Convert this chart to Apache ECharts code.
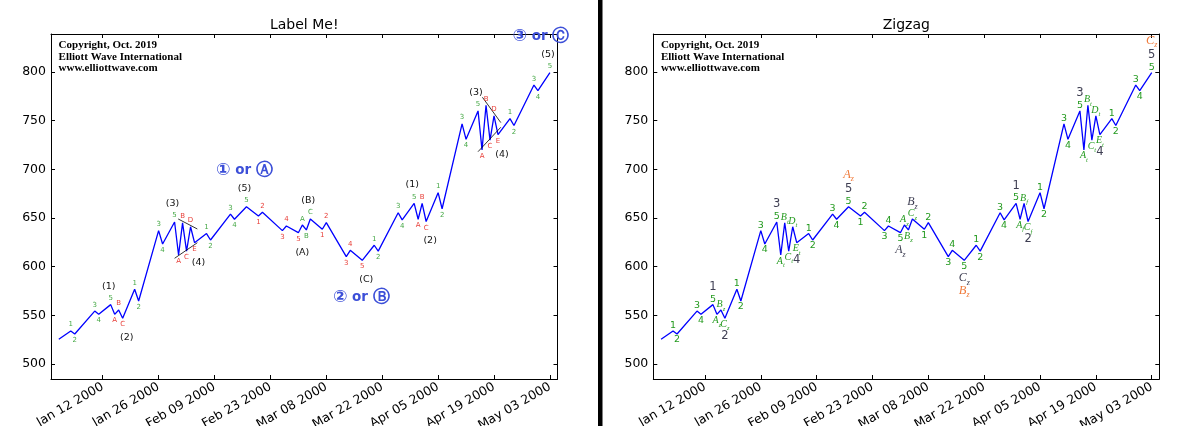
<!DOCTYPE html>
<html><head><meta charset="utf-8">
<script src="https://cdn.jsdelivr.net/npm/echarts@6/dist/echarts.min.js"></script>
<style>html,body{margin:0;padding:0;background:#fff}#c{width:1200px;height:426px}</style>
</head><body><div id="c"></div>
<script>
// ---------------- data ----------------
const dates = ['2000-01-01','2000-01-04','2000-01-05','2000-01-10','2000-01-11','2000-01-14','2000-01-15','2000-01-16','2000-01-17','2000-01-20','2000-01-21','2000-01-26','2000-01-27','2000-01-30','2000-01-31','2000-02-01','2000-02-02','2000-02-03','2000-02-04','2000-02-07','2000-02-08','2000-02-13','2000-02-14','2000-02-17','2000-02-20','2000-02-21','2000-02-26','2000-02-27','2000-03-01','2000-03-02','2000-03-03','2000-03-04','2000-03-07','2000-03-08','2000-03-13','2000-03-14','2000-03-17','2000-03-20','2000-03-21','2000-03-26','2000-03-27','2000-03-30','2000-03-31','2000-04-01','2000-04-02','2000-04-05','2000-04-06','2000-04-11','2000-04-12','2000-04-15','2000-04-16','2000-04-17','2000-04-18','2000-04-19','2000-04-20','2000-04-23','2000-04-24','2000-04-29','2000-04-30','2000-05-03'];
const values = [525.5,534,530.8,554.4,551,561,551,555.5,547,576.8,564.7,637,623.3,645.9,612,645,616,641,624.6,634,627.4,654,648.7,661.6,652,655.8,637,641.8,634.9,642.8,637.7,649,638.4,645.2,610.3,616.8,606.5,622,616,655.4,648,665,648.7,665,646.4,676,659.5,746.6,730.8,760,720,765.8,730,755,735.6,752,745,786.6,780.8,799.3];
const yTickValues = [500,550,600,650,700,750,800];
const xTickDates = ['2000-01-12','2000-01-26','2000-02-09','2000-02-23','2000-03-08','2000-03-22','2000-04-05','2000-04-19','2000-05-03'];
const titles = ['Label Me!','Zigzag'];
const copyrightLines = ['Copyright, Oct. 2019','Elliott Wave International','www.elliottwave.com'];

// left panel ("Label Me!")
const leftWave = ['','1','2','3','4','5','A','B','C','1','2','3','4','5','A','B','C','D','E','1','2','3','4','5','1','2','3','4','5','A','B','C','1','2','3','4','5','1','2','3','4','5','A','B','C','1','2','3','4','5','A','B','C','D','E','1','2','3','4','5'];
const leftKind = ('-'+'iiiii'+'ccc'+'iiiii'+'ccccc'+'iiiii'+'ccccc'+'iii'+'ccccc'+'iiiii'+'ccc'+'iiiii'+'ccccc'+'iiiii').split('');
const leftDegree = [[5,'(1)'],[8,'(2)'],[13,'(3)'],[18,'(4)'],[23,'(5)'],[28,'(A)'],[31,'(B)'],[36,'(C)'],[41,'(1)'],[44,'(2)'],[49,'(3)'],[54,'(4)'],[59,'(5)']];
const leftBig = [[23,'①','Ⓐ'],[36,'②','Ⓑ'],[59,'③','Ⓒ']];
const triangleLines = [
  [['2000-01-30T21:36',649],['2000-02-04T16:48',638.7]],
  [['2000-01-30T00:00',608.6],['2000-02-04T16:48',624.6]],
  [['2000-04-16T02:24',774],['2000-04-20T16:48',748]],
  [['2000-04-15T00:00',718.1],['2000-04-20T16:48',743.2]]
];

// right panel ("Zigzag")
const rightWave = ['','1','2','3','4','5','A_z','B_z','C_z','1','2','3','4','5','A_t','B_t','C_t','D_t','E_t','1','2','3','4','5','1','2','3','4','5','A_z','B_z','C_z','1','2','3','4','5','1','2','3','4','5','A_f','B_f','C_f','1','2','3','4','5','A_t','B_t','C_t','D_t','E_t','1','2','3','4','5'];
const rightDegree = [[5,'1'],[8,'2'],[13,'3'],[18,'4'],[23,'5'],[28,'A_z'],[31,'B_z'],[36,'C_z'],[41,'1'],[44,'2'],[49,'3'],[54,'4'],[59,'5']];
const rightHigher = [[23,'A_z'],[36,'B_z'],[59,'C_z']];

// ---------------- helpers ----------------
const months=['Jan','Feb','Mar','Apr','May','Jun','Jul','Aug','Sep','Oct','Nov','Dec'];
const ts = s => Date.parse(s.length === 10 ? s + 'T00:00:00Z' : s + ':00Z');
const DAY = 86400000;
const x0 = ts(dates[0]);
const xMin = x0 - 1.95*DAY, xMax = x0 + 124.9*DAY;
const xTicks = xTickDates.map(ts);
const fmtDate = v => { const d = new Date(v); return months[d.getUTCMonth()] + ' ' + String(d.getUTCDate()).padStart(2,'0') + ' ' + d.getUTCFullYear(); };
const lineData = dates.map((d,i)=>[ts(d), values[i]]);

const GREEN_L='#45a845', RED_L='#e8403a', GREEN_R='#239a1e', GRAY='#3e3e52', ORANGE='#f07a3a', BLUE_T='#3c4fd8';

function isPeak(i){ const v=values[i]; const a=i>0?values[i-1]:-Infinity; const b=i<values.length-1?values[i+1]:-Infinity; return v>a && v>b; }
function items(list, up, dn, colorOf){
  return list.map(([i,txt])=>{
    let o = isPeak(i) ? up.slice() : dn.slice();
    const it = {value:[ts(dates[i]), values[i]], txt, label:{offset:o}};
    if (colorOf) it.label.color = colorOf(i);
    return it;
  });
}
function fmtRich(txt){
  if (txt.indexOf('_')>=0){ const p=txt.split('_'); return '{L|'+p[0]+'}{s|'+p[1]+'}'; }
  return '{d|'+txt+'}';
}
function labelSeries(axis, data, labelOpt){
  return {type:'scatter', xAxisIndex:axis, yAxisIndex:axis, data, symbol:'circle', symbolSize:1,
    itemStyle:{color:'rgba(0,0,0,0)', opacity:1}, silent:true, clip:false, z:5, animation:false, emphasis:{disabled:true},
    label:Object.assign({show:true, position:'inside', opacity:1, formatter:p=>p.data.txt}, labelOpt)};
}
function richSet(dSize, lSize, sSize){
  return {
    d:{fontFamily:'DejaVu Sans', fontSize:dSize, lineHeight:dSize+2},
    L:{fontFamily:'Liberation Serif', fontStyle:'italic', fontSize:lSize, lineHeight:lSize, verticalAlign:'top'},
    s:{fontFamily:'Liberation Serif', fontStyle:'italic', fontSize:sSize, lineHeight:sSize, padding:[Math.round(lSize*0.55),0,0,0], verticalAlign:'top'}
  };
}

// ---------------- axes ----------------
const tickStyle = {show:true, inside:true, length:4, lineStyle:{color:'#000', width:1}};
function xAx(grid, pos){
  return {type:'value', gridIndex:grid, position:pos, min:xMin, max:xMax, splitLine:{show:false},
    axisLine:{show:true, onZero:false, lineStyle:{color:'#000', width:1}},
    axisTick:Object.assign({customValues:xTicks}, tickStyle),
    axisLabel: pos==='bottom' ? {show:true, customValues:xTicks, formatter:fmtDate, rotate:30, fontSize:12.5, color:'#000', fontFamily:'DejaVu Sans', margin:7} : {show:false}};
}
function yAx(grid, pos){
  return {type:'value', gridIndex:grid, position:pos, min:484.6, max:839, splitLine:{show:false},
    axisLine:{show:true, onZero:false, lineStyle:{color:'#000', width:1}},
    axisTick:Object.assign({customValues:yTickValues}, tickStyle),
    axisLabel: pos==='left' ? {show:true, customValues:yTickValues, fontSize:12.5, color:'#000', fontFamily:'DejaVu Sans', margin:5} : {show:false}};
}

// ---------------- series ----------------
const series = [];
series.push({type:'line', xAxisIndex:0, yAxisIndex:0, data:lineData, showSymbol:false, symbol:'none', lineStyle:{color:'#0000ff', width:1.3}, z:3, animation:false, silent:true});
triangleLines.forEach(tl=>series.push({type:'line', xAxisIndex:0, yAxisIndex:0, data:tl.map(p=>[ts(p[0]),p[1]]), symbol:'none', lineStyle:{color:'#000', width:0.8}, z:4, animation:false, silent:true}));
const leftList = leftWave.map((t,i)=>[i,t]).filter(p=>p[1]);
series.push(labelSeries(0, items(leftList, [0,-6.3], [0,6.3], i=>leftKind[i]==='i'?GREEN_L:RED_L), {fontSize:7, fontFamily:'DejaVu Sans'}));
series.push(labelSeries(0, items(leftDegree, [-2,-18.5], [4,19.5]), {fontSize:9.5, fontFamily:'DejaVu Sans', color:'#111'}));
const bigData = items(leftBig.map(b=>[b[0], '{c|'+b[1]+'}{o| or }{c|'+b[2]+'}']), [-2,-36.5], [-1,37.5]);
bigData[bigData.length-1].label.offset[0] = -9;
series.push(labelSeries(0, bigData, {color:BLUE_T, formatter:p=>p.data.txt,
  rich:{c:{fontSize:17, fontWeight:'bold', fontFamily:'DejaVu Sans', color:BLUE_T}, o:{fontSize:13.5, fontWeight:'bold', fontFamily:'DejaVu Sans', color:BLUE_T}}}));

series.push({type:'line', xAxisIndex:2, yAxisIndex:2, data:lineData, showSymbol:false, symbol:'none', lineStyle:{color:'#0000ff', width:1.3}, z:3, animation:false, silent:true});
const rightList = rightWave.map((t,i)=>[i,t]).filter(p=>p[1]);
series.push(labelSeries(2, items(rightList, [0,-5.5], [0,6]), {color:GREEN_R, formatter:p=>fmtRich(p.data.txt), rich:richSet(9.5,10,6.5)}));
series.push(labelSeries(2, items(rightDegree, [0,-17.5], [0,17.5]), {color:GRAY, formatter:p=>fmtRich(p.data.txt), rich:richSet(11.5,12,8)}));
series.push(labelSeries(2, items(rightHigher, [0,-32.5], [0,30]), {color:ORANGE, formatter:p=>fmtRich(p.data.txt), rich:richSet(11.5,12.5,8)}));

// ---------------- graphics ----------------
const grids = [{left:51, top:34, width:506.5, height:345, outerBoundsMode:'none'}, {left:653.3, top:34, width:506, height:345, outerBoundsMode:'none'}];
const graphic = [];
grids.forEach((g,k)=>{
  graphic.push({type:'text', x:g.left + g.width/2, y:25, silent:true, style:{text:titles[k], textAlign:'center', textVerticalAlign:'middle', font:'14px "DejaVu Sans"', fill:'#000'}});
  graphic.push({type:'text', x:g.left + 7.6, y:39.5, silent:true, style:{text:copyrightLines.join('\n'), textAlign:'left', textVerticalAlign:'top', font:'bold 11px "Liberation Serif"', lineHeight:11.5, fill:'#000'}});
});
graphic.push({type:'rect', silent:true, shape:{x:598, y:0, width:4.5, height:426}, style:{fill:'#000'}});

const chart = echarts.init(document.getElementById('c'), null, {renderer:'canvas'});
chart.setOption({
  backgroundColor:'#fff', animation:false,
  grid:grids,
  xAxis:[xAx(0,'bottom'), xAx(0,'top'), xAx(1,'bottom'), xAx(1,'top')],
  yAxis:[yAx(0,'left'), yAx(0,'right'), yAx(1,'left'), yAx(1,'right')],
  series,
  graphic
});
</script>
</body></html>
